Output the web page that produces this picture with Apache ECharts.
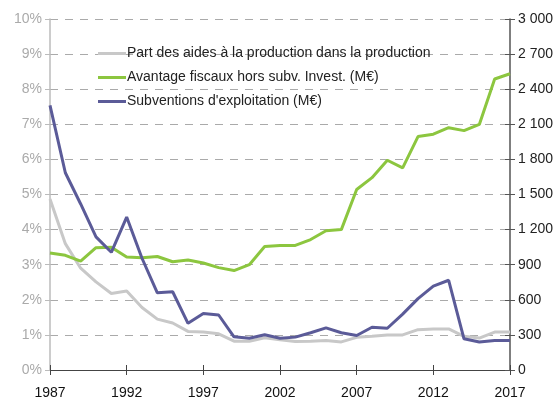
<!DOCTYPE html>
<html>
<head>
<meta charset="utf-8">
<script src="https://cdn.jsdelivr.net/npm/echarts@6/dist/echarts.min.js"></script>
<style>
  html, body { margin: 0; padding: 0; background: #fff; }
  #chart { width: 558px; height: 400px; }
</style>
</head>
<body>
<div id="chart"></div>
<script>
// annees
var years = [];
for (var y = 1987; y <= 2017; y++) years.push(String(y));

// Part des aides a la production dans la production (%)
var partAides = [4.87, 3.60, 2.90, 2.51, 2.18, 2.25, 1.78, 1.45, 1.34, 1.10, 1.08,
  1.03, 0.82, 0.82, 0.92, 0.86, 0.81, 0.82, 0.84, 0.80, 0.93,
  0.96, 1.00, 1.00, 1.15, 1.17, 1.17, 0.96, 0.91, 1.08, 1.08];

// Avantage fiscaux hors subv. Invest. (M€)
var avantageFiscaux = [1000, 980, 930, 1045, 1050, 965, 960, 970, 925, 940, 915,
  875, 850, 900, 1055, 1065, 1065, 1115, 1190, 1200, 1543,
  1644, 1793, 1728, 1995, 2015, 2071, 2046, 2099, 2487, 2532];

// Subventions d'exploitation (M€)
var subventions = [2262, 1686, 1419, 1138, 1006, 1307, 955, 660, 669, 399, 483,
  470, 284, 272, 301, 272, 281, 318, 360, 318, 295,
  365, 357, 478, 610, 717, 767, 267, 239, 253, 253];

var legendNames = ['Part des aides à la production dans la production',
  'Avantage fiscaux hors subv. Invest. (M€)',
  "Subventions d'exploitation (M€)"];

var font = '"Liberation Sans", Arial, sans-serif';

const myChart = echarts.init(document.getElementById('chart'));

function milliers(v) {
  return String(v).replace(/\B(?=(\d{3})+(?!\d))/g, ' ');
}

var option = {
  animation: false,
  textStyle: { fontFamily: font },
  grid: { left: 50, right: 48, top: 19, bottom: 25, containLabel: false },
  legend: {
    orient: 'vertical',
    left: 93,
    top: 40,
    icon: 'rect',
    itemWidth: 28,
    itemHeight: 3,
    itemGap: 7,
    textStyle: { fontSize: 14, color: '#222', fontFamily: font, lineHeight: 17, padding: [0, 0, 0, -4] },
    data: legendNames
  },
  xAxis: [{
    type: 'category',
    data: years,
    boundaryGap: false,
    axisLine: { lineStyle: { color: '#444', width: 1 } },
    axisTick: { interval: 4, length: 5, lineStyle: { color: '#444' } },
    axisLabel: { interval: 4, color: '#111', fontSize: 14, margin: 16, fontFamily: font },
    splitLine: { show: false }
  }, {
    // tirets vers l'interieur
    type: 'category',
    data: years,
    boundaryGap: false,
    position: 'bottom',
    axisLine: { show: false },
    axisTick: { interval: 4, length: 5, inside: true, lineStyle: { color: '#444' } },
    axisLabel: { show: false },
    splitLine: { show: false }
  }],
  yAxis: [{
    type: 'value',
    min: 0, max: 10, interval: 1,
    position: 'left',
    axisLine: { show: true, lineStyle: { color: '#bbb', width: 1.5 } },
    axisTick: { show: true, length: 5, lineStyle: { color: '#bbb' } },
    axisLabel: { formatter: '{value}%', color: '#aaa', fontSize: 14, margin: 8, fontFamily: font },
    splitLine: { show: true, lineStyle: { color: '#aaa', type: [8, 7], width: 1 } }
  }, {
    type: 'value',
    min: 0, max: 3000, interval: 300,
    position: 'right',
    axisLine: { show: true, lineStyle: { color: '#555', width: 1.5 } },
    axisTick: { show: true, length: 5, lineStyle: { color: '#555' } },
    axisLabel: { formatter: milliers, color: '#222', fontSize: 14, margin: 8, fontFamily: font },
    splitLine: { show: false }
  }, {
    type: 'value',
    min: 0, max: 3000, interval: 300,
    position: 'right',
    axisLine: { show: false },
    axisTick: { show: true, inside: true, length: 5, lineStyle: { color: '#555' } },
    axisLabel: { show: false },
    splitLine: { show: false }
  }],
  series: [
    {
      name: legendNames[0],
      type: 'line',
      yAxisIndex: 0,
      data: partAides,
      symbol: 'none',
      lineStyle: { color: '#c8c8c8', width: 3 },
      itemStyle: { color: '#c8c8c8' }
    },
    {
      name: legendNames[1],
      type: 'line',
      yAxisIndex: 1,
      data: avantageFiscaux,
      symbol: 'none',
      lineStyle: { color: '#8cc63f', width: 3 },
      itemStyle: { color: '#8cc63f' }
    },
    {
      name: legendNames[2],
      type: 'line',
      yAxisIndex: 1,
      data: subventions,
      symbol: 'none',
      lineStyle: { color: '#5b5b98', width: 3 },
      itemStyle: { color: '#5b5b98' }
    }
  ]
};
myChart.setOption(option);
</script>
</body>
</html>
